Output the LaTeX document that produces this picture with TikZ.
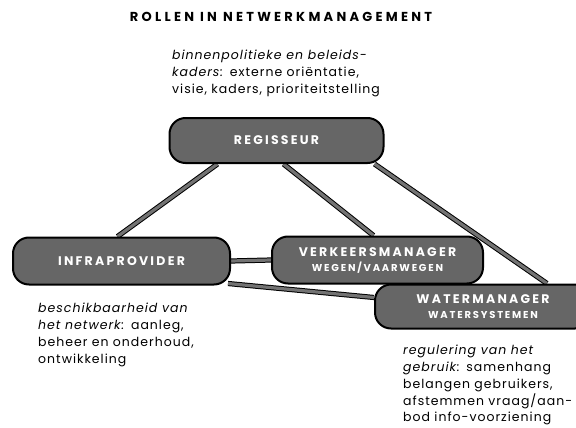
\documentclass[tikz,border=0pt]{standalone}
\usepackage{fontspec}
\setmainfont{Poppins}
\newfontfamily\spatiefont[LetterSpace=18]{Poppins}
\newfontfamily\titelfont[LetterSpace=25]{Poppins}
\newfontfamily\tekstfont[LetterSpace=8]{Poppins}
\usetikzlibrary{backgrounds}

\tikzset{
    % rollen (afgeronde blokken)
    rol/.style={draw=black, line width=2pt, fill=black!60, rounded corners=16pt,
        text=white, align=center, inner sep=0pt,
        font=\spatiefont\bfseries\fontsize{12.5}{14}\selectfont},
    % verbindingen tussen de rollen
    band/.style={draw=black, line width=1pt, double=black!55, double distance=3.2pt},
    % toelichting bij een rol
    uitleg/.style={anchor=north west, align=left, inner sep=0pt,
        font=\tekstfont\fontsize{12.5}{16.8}\selectfont}
}

\begin{document}
\begin{tikzpicture}[x=1pt, y=-1pt]
\useasboundingbox (0,0) rectangle (576,428);

%================ titel ================
\node[font=\titelfont\bfseries\fontsize{13}{15}\selectfont] (titel) at (281,17)
    {ROLLEN IN NETWERKMANAGEMENT};

%================ rollen ================
\node[rol, minimum width=214pt, minimum height=45pt] (reg) at (276.5,140.5) {REGISSEUR};
\node[rol, minimum width=217pt, minimum height=47pt] (infra) at (121.5,261) {INFRAPROVIDER};
\node[rol, minimum width=211pt, minimum height=47pt] (verkeer) at (377.5,260)
    {VERKEERSMANAGER\\[1pt]{\fontsize{10}{12}\selectfont WEGEN/VAARWEGEN}};
% loopt door tot voorbij de rechterrand
\node[rol, minimum width=216pt, minimum height=44pt] (water) at (483,306.5)
    {WATERMANAGER\\[1pt]{\fontsize{10}{12}\selectfont WATERSYSTEMEN}};

%================ verbindingen ================
\begin{pgfonlayer}{background}
    \draw[band] ([xshift=-59pt]reg.south) -- ([xshift=-4pt]infra.north);
    \draw[band] ([xshift=7pt]reg.south) -- ([xshift=-4pt]verkeer.north);
    \draw[band] ([xshift=-10pt]reg.south east) -- ([xshift=64pt]water.north);
    \draw[band] (infra.east) -- (verkeer.west);
    \draw[band] ([xshift=-3pt,yshift=2pt]infra.south east) -- ([yshift=9pt]water.west);
\end{pgfonlayer}

%================ toelichtingen ================
\node[uitleg] (uitlegreg) at (172,50)
    {\textit{binnenpolitieke en beleids-}\\
     \textit{kaders:} externe oriëntatie,\\
     visie, kaders, prioriteitstelling};
\node[uitleg] (uitleginfra) at (38,303)
    {\textit{beschikbaarheid van}\\
     \textit{het netwerk:} aanleg,\\
     beheer en onderhoud,\\
     ontwikkeling};
\node[uitleg] (uitlegwater) at (403,345)
    {\textit{regulering van het}\\
     \textit{gebruik:} samenhang\\
     belangen gebruikers,\\
     afstemmen vraag/aan-\\
     bod info-voorziening};

\end{tikzpicture}
\end{document}
